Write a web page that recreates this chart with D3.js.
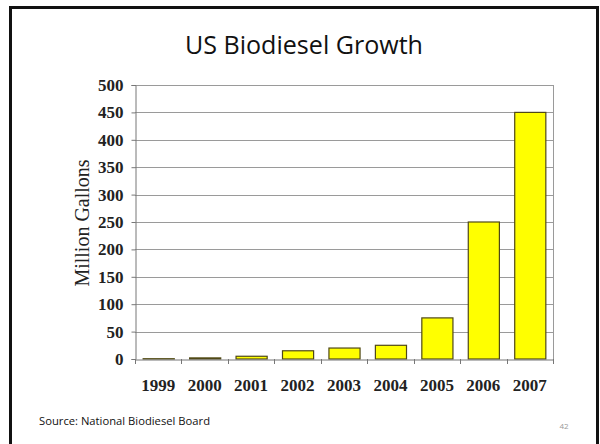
<!DOCTYPE html>
<html>
<head>
<meta charset="utf-8">
<script src="https://cdn.jsdelivr.net/npm/d3@7"></script>
<style>
  html, body { margin: 0; padding: 0; background: #fff; }
  svg { display: block; }
</style>
</head>
<body>
<svg id="chart" width="600" height="444"></svg>
<script>
// US biodiesel production, million gallons per year
const years = ["1999", "2000", "2001", "2002", "2003", "2004", "2005", "2006", "2007"];
const gallons = [0.5, 2, 5, 15, 20, 25, 75, 250, 450];
const yTicks = [0, 50, 100, 150, 200, 250, 300, 350, 400, 450, 500];

const titleText = "US Biodiesel Growth";
const yLabel = "Million Gallons";
const sourceText = "Source:  National Biodiesel Board";
const pageNumber = "42";

const serif = "'Liberation Serif', 'Times New Roman', serif";
const sans = "'Open Sans', sans-serif";

const svg = d3.select("#chart");

// slide frame
svg.append("rect")
  .attr("x", 10.5).attr("y", 7.5)
  .attr("width", 587).attr("height", 450)
  .attr("fill", "#fff")
  .attr("stroke", "#111").attr("stroke-width", 3);

svg.append("text")
  .attr("x", 304).attr("y", 54)
  .attr("text-anchor", "middle")
  .attr("font-family", sans)
  .attr("font-size", 25)
  .attr("textLength", 238)
  .attr("lengthAdjust", "spacingAndGlyphs")
  .attr("fill", "#111")
  .text(titleText);

const plot = { left: 135, right: 553, top: 85, bottom: 359 };

const x = d3.scaleBand()
  .domain(years)
  .range([plot.left, plot.right])
  .paddingInner(0.33)
  .paddingOuter(0.165);

const y = d3.scaleLinear()
  .domain([0, 500])
  .range([plot.bottom, plot.top]);

// horizontal gridlines
svg.append("g")
  .selectAll("line")
  .data(yTicks.filter(d => d > 0))
  .join("line")
  .attr("x1", plot.left).attr("x2", plot.right)
  .attr("y1", d => Math.round(y(d)) + 0.5)
  .attr("y2", d => Math.round(y(d)) + 0.5)
  .attr("stroke", "#9a9a9a").attr("stroke-width", 1);

// right edge of plot box
svg.append("line")
  .attr("x1", plot.right + 0.5).attr("x2", plot.right + 0.5)
  .attr("y1", plot.top).attr("y2", plot.bottom + 5)
  .attr("stroke", "#9a9a9a");

// bars
svg.append("g")
  .selectAll("rect")
  .data(years.map((yr, i) => ({ yr, v: gallons[i] })))
  .join("rect")
  .attr("x", d => x(d.yr) + 0.5)
  .attr("y", d => y(d.v))
  .attr("width", x.bandwidth())
  .attr("height", d => plot.bottom - y(d.v))
  .attr("fill", "#ffff00")
  .attr("stroke", "#4f4818").attr("stroke-width", 1.2);

// y axis
const yAxis = svg.append("g")
  .attr("transform", `translate(${plot.left + 0.5},0)`)
  .call(d3.axisLeft(y).tickValues(yTicks).tickSize(4).tickPadding(8));
yAxis.select(".domain").attr("stroke", "#777");
yAxis.selectAll(".tick line").attr("stroke", "#777");
yAxis.selectAll("text")
  .attr("font-family", serif)
  .attr("font-weight", "bold")
  .attr("font-size", 17)
  .attr("fill", "#222");

// x axis, ticks drawn at category boundaries below
const xAxis = svg.append("g")
  .attr("transform", `translate(0,${plot.bottom + 0.5})`)
  .call(d3.axisBottom(x).tickSize(0).tickPadding(19));
xAxis.select(".domain").attr("stroke", "#777");
xAxis.selectAll("text")
  .attr("font-family", serif)
  .attr("font-weight", "bold")
  .attr("font-size", 17)
  .attr("fill", "#222");

const bounds = d3.range(years.length + 1).map(i => plot.left + i * (plot.right - plot.left) / years.length);
svg.append("g")
  .selectAll("line")
  .data(bounds)
  .join("line")
  .attr("x1", d => Math.round(d) + 0.5).attr("x2", d => Math.round(d) + 0.5)
  .attr("y1", plot.bottom).attr("y2", plot.bottom + 5)
  .attr("stroke", "#777");

// y axis title
svg.append("text")
  .attr("transform", `translate(89,${(plot.top + plot.bottom) / 2 + 1}) rotate(-90)`)
  .attr("text-anchor", "middle")
  .attr("font-family", serif)
  .attr("font-size", 20)
  .attr("fill", "#222")
  .text(yLabel);

// footer
svg.append("text")
  .attr("x", 39).attr("y", 425)
  .attr("font-family", sans)
  .attr("font-size", 11.5)
  .attr("textLength", 171)
  .attr("lengthAdjust", "spacingAndGlyphs")
  .attr("fill", "#111")
  .text(sourceText);

svg.append("text")
  .attr("x", 564).attr("y", 429)
  .attr("text-anchor", "middle")
  .attr("font-family", sans)
  .attr("font-size", 8)
  .attr("fill", "#999")
  .text(pageNumber);
</script>
</body>
</html>
